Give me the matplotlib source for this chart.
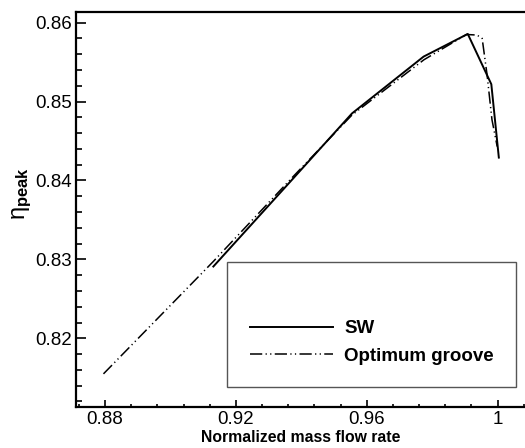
import matplotlib

matplotlib.use('agg')
import matplotlib.pyplot as plt
from matplotlib.patches import Rectangle
from matplotlib.ticker import MultipleLocator, FuncFormatter

plt.rcParams['font.family'] = ['Liberation Sans', 'DejaVu Sans']
plt.rcParams['mathtext.fontset'] = 'custom'
plt.rcParams['mathtext.rm'] = 'Liberation Sans'
plt.rcParams['mathtext.bf'] = 'Liberation Sans:bold'
plt.rcParams['mathtext.it'] = 'Liberation Sans:italic'

# SW curve
sw_x = [0.9131, 0.9376, 0.9555, 0.9774, 0.9909, 0.9981, 1.0004]
sw_y = [0.8291, 0.8403, 0.8485, 0.8557, 0.85857, 0.8522, 0.8429]

# Optimum groove curve
og_x = [0.8795, 0.913, 0.9375, 0.9555, 0.9775, 0.9905, 0.9937, 0.9953, 0.9968, 0.9983, 0.9999]
og_y = [0.8155, 0.8297, 0.8405, 0.8483, 0.8553, 0.8585, 0.85843, 0.8580, 0.8534, 0.8477, 0.8443]

x_ticks = [0.88, 0.92, 0.96, 1.0]
y_ticks = [0.82, 0.83, 0.84, 0.85, 0.86]

fig = plt.figure(figsize=(5.25, 4.48), dpi=100)
ax = fig.add_axes([76 / 525, 41 / 448, 449 / 525, 395 / 448])

ax.plot(sw_x, sw_y, color='black', lw=1.4, label='SW')
ax.plot(og_x, og_y, color='black', lw=1.1,
        linestyle=(0, (8, 2.2, 0.8, 2.2, 0.8, 2.2)), label='Optimum groove')

ax.set_xlim(0.8711, 1.0084)
ax.set_ylim(0.8113, 0.86135)
ax.set_xticks(x_ticks)
ax.set_yticks(y_ticks)
ax.xaxis.set_minor_locator(MultipleLocator(0.008))
ax.yaxis.set_minor_locator(MultipleLocator(0.002))
fmt = FuncFormatter(lambda v, p: f'{v:g}')
ax.xaxis.set_major_formatter(fmt)
ax.yaxis.set_major_formatter(fmt)

ax.tick_params(axis='both', which='both', direction='in', top=False, right=False,
               labelsize=13.5, width=1.2, pad=3)
ax.tick_params(axis='y', which='major', length=7)
ax.tick_params(axis='y', which='minor', length=4)
ax.tick_params(axis='x', which='major', length=5)
ax.tick_params(axis='x', which='minor', length=2.5)
for s in ax.spines.values():
    s.set_linewidth(1.6)
ax.spines['right'].set_visible(False)

ax.set_xlabel('Normalized mass flow rate', fontsize=11.3, fontweight='bold', labelpad=1)
ax.set_ylabel(r'$\mathrm{\eta}_{\mathbf{peak}}$', fontsize=17)
ax.yaxis.set_label_coords(-0.094, 0.54)

# legend box
x0, x1 = (227 - 76) / 449, (516 - 76) / 449
y0, y1 = (407 - 387) / 395, (407 - 262) / 395
ax.add_patch(Rectangle((x0, y0), x1 - x0, y1 - y0, transform=ax.transAxes,
                       facecolor='white', edgecolor='#555555', lw=1.0, zorder=3))
leg = ax.legend(loc='upper left', bbox_to_anchor=((250 - 76) / 449, (407 - 320) / 395),
                frameon=False, borderpad=0, borderaxespad=0, handlelength=4.4,
                handletextpad=0.64, labelspacing=0.56,
                prop={'weight': 'bold', 'size': 13.5})
leg.set_zorder(4)

fig.savefig('out.png', dpi=100)
